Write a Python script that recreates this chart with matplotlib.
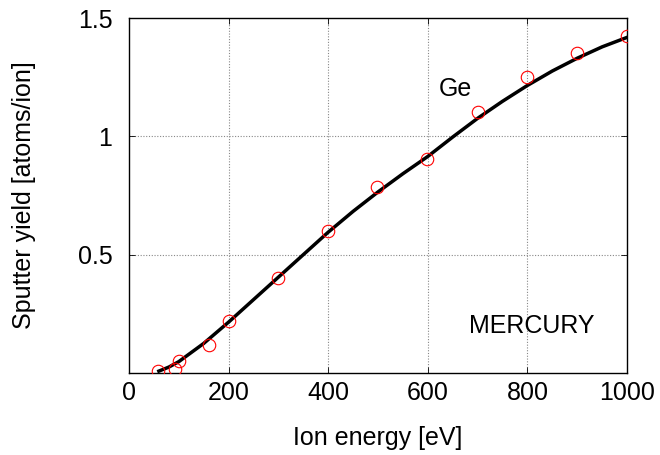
import numpy as np
import matplotlib.pyplot as plt

plt.rcParams['font.family'] = ['Liberation Sans', 'DejaVu Sans']

# measured points (red circles)
energy_pts = [58, 92, 100, 160, 200, 300, 400, 498, 598, 700, 800, 900, 1000]
yield_pts = [0.008, 0.017, 0.05, 0.118, 0.22, 0.40, 0.60, 0.786, 0.904, 1.104, 1.252, 1.353, 1.424]

# fitted curve
energy_fit = [60, 80, 100, 150, 200, 250, 300, 350, 400, 450, 500, 550, 600,
              650, 700, 750, 800, 850, 900, 950, 1000]
yield_fit = [0.008, 0.025, 0.048, 0.125, 0.215, 0.310, 0.405, 0.500, 0.595, 0.683,
             0.765, 0.842, 0.915, 0.997, 1.076, 1.148, 1.215, 1.276, 1.330, 1.378, 1.418]

x_ticks = [0, 200, 400, 600, 800, 1000]
y_ticks = [0.5, 1, 1.5]
y_tick_labels = ['0.5', '1', '1.5']

fs = 18

fig = plt.figure(figsize=(6.6, 4.55), dpi=100)
ax = fig.add_axes([129 / 660, 82 / 455, 498 / 660, 355 / 455])

ax.plot(energy_fit, yield_fit, color='black', lw=2.5, zorder=3)
ax.plot(energy_pts, yield_pts, 'o', mfc='none', mec='red', mew=0.8, ms=9, zorder=4)

ax.set_xlim(0, 1000)
ax.set_ylim(0, 1.5)
ax.set_xticks(x_ticks)
ax.set_yticks(y_ticks)
ax.set_yticklabels(y_tick_labels)
ax.tick_params(direction='in', length=4, width=0.6, labelsize=fs, top=True, right=True)
ax.tick_params(axis='x', pad=6)
ax.tick_params(axis='y', pad=12)

for gx in [200, 400, 600, 800]:
    ax.axvline(gx, color='#888888', lw=0.8, ls=(0, (1, 1.5)), zorder=1)
for gy in [0.5, 1]:
    ax.axhline(gy, color='#888888', lw=0.8, ls=(0, (1, 1.5)), zorder=1)

for sp in ax.spines.values():
    sp.set_linewidth(1.0)

ax.set_xlabel('Ion energy [eV]', fontsize=fs, labelpad=15)
ax.set_ylabel('Sputter yield [atoms/ion]', fontsize=fs, labelpad=30)

ax.text(655, 1.2, 'Ge', fontsize=fs, ha='center', va='center')
ax.text(809, 0.20, 'MERCURY', fontsize=fs, ha='center', va='center')

fig.savefig('out.png', dpi=100)
